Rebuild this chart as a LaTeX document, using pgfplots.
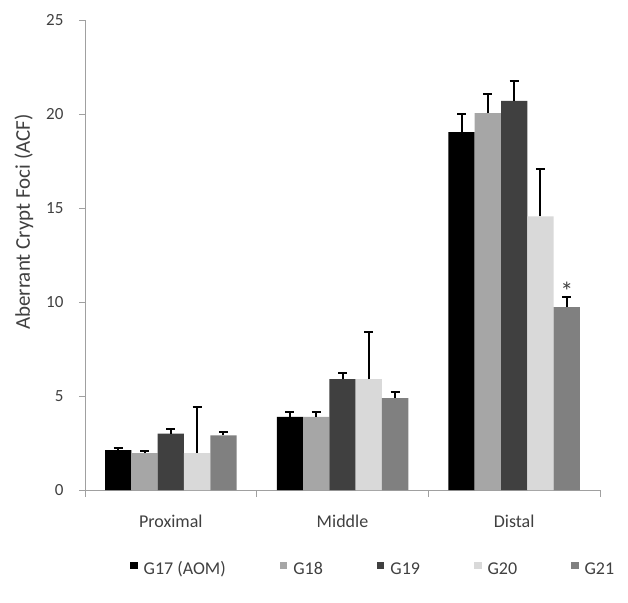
\documentclass[border=0pt]{standalone}
\usepackage{fontspec}
\setmainfont{Carlito}
\usepackage{pgfplots}
\pgfplotsset{compat=1.18}
\definecolor{txt}{HTML}{404040}
\definecolor{axg}{HTML}{A0A0A0}
\definecolor{cA}{HTML}{000000}
\definecolor{cB}{HTML}{A6A6A6}
\definecolor{cC}{HTML}{404040}
\definecolor{cD}{HTML}{D9D9D9}
\definecolor{cE}{HTML}{808080}
\pgfplotsset{
  errs/.style={error bars/.cd, y dir=plus, y explicit,
    error bar style={black, line width=2pt},
    error mark options={black, line width=2pt, mark size=4.5pt, rotate=90}},
}
\begin{document}
\begin{tikzpicture}
\path[use as bounding box] (-85pt,-112pt) rectangle (543pt,490pt);
\begin{axis}[
  at={(0,0)}, anchor=south west,
  scale only axis, width=515pt, height=470pt,
  xmin=-0.5, xmax=2.5, ymin=0, ymax=25,
  axis x line*=bottom, axis y line*=left,
  axis line style={axg, line width=0.8pt},
  ybar=0pt, bar width=26.3pt,
  xtick={0,1,2}, xticklabels={Proximal,Middle,Distal},
  minor xtick={-0.5,0.5,1.5,2.5},
  ytick={0,5,10,15,20,25},
  tick align=outside,
  major tick length=6pt, minor tick length=7pt,
  tick style={axg, line width=0.8pt},
  major x tick style={draw=none},
  /pgf/number format/assume math mode=true,
  yticklabel style={font=\fontsize{17}{18}\selectfont, text=txt, xshift=-12pt},
  xticklabel style={font=\fontsize{18}{20}\selectfont, text=txt, yshift=-15pt},
  legend columns=5,
  legend image code/.code={\fill[#1] (0pt,0pt) rectangle (7.5pt,7.5pt);},
  legend style={draw=none, fill=none, inner sep=0pt,
    at={(axis description cs:0.0874,-0.168)}, anchor=west,
    font=\fontsize{18}{20}\selectfont, text=txt,
    nodes={inner sep=0pt},
    /tikz/every odd column/.append style={column sep=6pt},
    /tikz/every even column/.append style={column sep=54pt}},
]
\addplot[fill=cA, draw=none, errs] coordinates {(0,2.12) +- (0,0.12) (1,3.89) +- (0,0.25) (2,19.04) +- (0,0.97)};
\addplot[fill=cB, draw=none, errs] coordinates {(0,1.96) +- (0,0.12) (1,3.89) +- (0,0.25) (2,20.05) +- (0,1.00)};
\addplot[fill=cC, draw=none, errs] coordinates {(0,3.00) +- (0,0.23) (1,5.90) +- (0,0.34) (2,20.70) +- (0,1.06)};
\addplot[fill=cD, draw=none, errs] coordinates {(0,1.96) +- (0,2.47) (1,5.90) +- (0,2.53) (2,14.56) +- (0,2.50)};
\addplot[fill=cE, draw=none, errs] coordinates {(0,2.90) +- (0,0.19) (1,4.89) +- (0,0.30) (2,9.73) +- (0,0.55)};
\legend{G17 (AOM),G18,G19,G20,G21}
\node[anchor=base, font=\fontsize{26}{28}\selectfont, text=txt, xshift=52.6pt, yshift=-4pt] at (axis cs:2,10.28) {*};
\end{axis}
\node[rotate=90, font=\fontsize{21}{24}\selectfont, text=txt] at (-61pt,268pt) {Aberrant Crypt Foci (ACF)};
\end{tikzpicture}
\end{document}
